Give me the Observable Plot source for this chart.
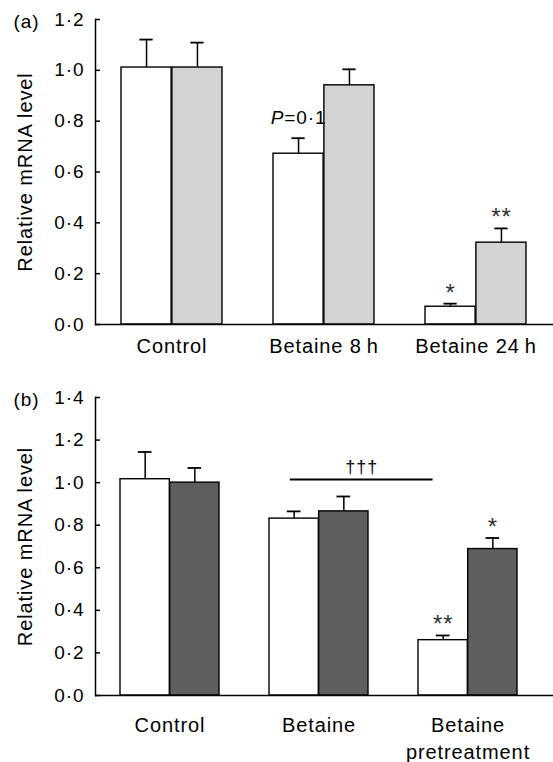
<!DOCTYPE html>
<html><head><meta charset="utf-8">
<script src="https://cdn.jsdelivr.net/npm/d3@7"></script>
<script src="https://cdn.jsdelivr.net/npm/@observablehq/plot@0.6"></script>
<style>
body{margin:0;background:#fff;}
#chart svg{display:block;}
</style></head><body><div id="chart"></div>
<script>
// ---------- Panel (a) ----------
const groupsA = ["Control", "Betaine 8\u2009h", "Betaine 24\u2009h"];
const whiteA = [1.011, 0.672, 0.070];
const whiteErrA = [0.110, 0.061, 0.012];
const grayA = [1.011, 0.941, 0.322];
const grayErrA = [0.098, 0.063, 0.056];
const yTicksA = [0, 0.2, 0.4, 0.6, 0.8, 1.0, 1.2];
const notesA = [
  {group: "Betaine 8\u2009h", series: "white", text: "P=0·1"},
  {group: "Betaine 24\u2009h", series: "white", text: "*"},
  {group: "Betaine 24\u2009h", series: "gray", text: "**"}
];

// ---------- Panel (b) ----------
const groupsB = ["Control", "Betaine", "Betaine\npretreatment"];
const whiteB = [1.016, 0.831, 0.260];
const whiteErrB = [0.128, 0.034, 0.022];
const grayB = [1.000, 0.865, 0.688];
const grayErrB = [0.069, 0.070, 0.052];
const yTicksB = [0, 0.2, 0.4, 0.6, 0.8, 1.0, 1.2, 1.4];
const notesB = [
  {group: "Betaine\npretreatment", series: "white", text: "**"},
  {group: "Betaine\npretreatment", series: "gray", text: "*"}
];
const sigB = [{from: "Betaine", to: "Betaine\npretreatment", y: 1.015, text: "†††"}];

const FONT = "'Liberation Sans', Arial, Helvetica, sans-serif";
const fmt = d => d3.format(".1f")(d).replace(".", "·");

function rowsOf(groups, white, whiteErr, gray, grayErr) {
  const rows = [];
  groups.forEach((g, i) => {
    rows.push({group: g, series: "white", value: white[i], err: whiteErr[i]});
    rows.push({group: g, series: "gray", value: gray[i], err: grayErr[i]});
  });
  return rows;
}

function panel(cfg) {
  const W = 553;
  const plotW = W - 95 - cfg.marginRight;
  const bw = plotW * 2 / 9;      // band = two bars
  const half = bw / 2;
  const q = half / 2;
  const rows = rowsOf(cfg.groups, cfg.white, cfg.whiteErr, cfg.gray, cfg.grayErr);
  const wRows = rows.filter(d => d.series === "white");
  const gRows = rows.filter(d => d.series === "gray");
  const top = (g, s) => { const r = rows.find(d => d.group === g && d.series === s); return r.value + r.err; };
  const notes = cfg.notes.map(n => ({...n, y: top(n.group, n.series)}));
  const pNotes = notes.filter(n => n.text.startsWith("P"));
  const starW = notes.filter(n => !n.text.startsWith("P") && n.series === "white");
  const starG = notes.filter(n => !n.text.startsWith("P") && n.series === "gray");
  const capIn = (bw - 14) / 2;
  const marks = [
    Plot.barY(wRows, {x: "group", y: "value", fill: "white", stroke: "black", strokeWidth: 1.4, insetRight: half}),
    Plot.barY(gRows, {x: "group", y: "value", fill: cfg.color, stroke: "black", strokeWidth: 1.4, insetLeft: half}),
    Plot.ruleX(wRows, {x: "group", y1: "value", y2: d => d.value + d.err, dx: -q, stroke: "black", strokeWidth: 1.5}),
    Plot.ruleX(gRows, {x: "group", y1: "value", y2: d => d.value + d.err, dx: q, stroke: "black", strokeWidth: 1.5}),
    Plot.tickY(wRows, {x: "group", y: d => d.value + d.err, dx: -q, insetLeft: capIn, insetRight: capIn, stroke: "black", strokeWidth: 1.8}),
    Plot.tickY(gRows, {x: "group", y: d => d.value + d.err, dx: q, insetLeft: capIn, insetRight: capIn, stroke: "black", strokeWidth: 1.8}),
    Plot.ruleY([0], {stroke: "black", strokeWidth: 1.5, insetRight: -cfg.marginRight}),
    Plot.frame({anchor: "left", stroke: "black", strokeWidth: 1.5}),
    Plot.axisY(cfg.yTicks, {label: null, tickSize: -5, tickPadding: 16, tickFormat: fmt, fontSize: 19, stroke: "black", strokeWidth: 1.5}),
    Plot.axisX({label: null, tickSize: 0, tickPadding: cfg.xPad, fontSize: 20, lineHeight: 1.35}),
    Plot.text([cfg.ylabel], {frameAnchor: "left", rotate: -90, dx: -70, fontSize: 20, textAnchor: "middle"}),
    Plot.text([cfg.tag], {frameAnchor: "top-left", dx: -82, dy: 2, fontSize: 19, textAnchor: "start", lineAnchor: "middle"}),
    Plot.text(pNotes, {x: "group", y: "y", text: "text", dx: -q, dy: -14, fontSize: 19, lineAnchor: "bottom", fill: "black"}),
    Plot.text(starW, {x: "group", y: "y", text: "text", dx: -q, dy: -3, fontSize: 24, lineAnchor: "bottom", fill: "#333"}),
    Plot.text(starG, {x: "group", y: "y", text: "text", dx: q, dy: -3, fontSize: 24, lineAnchor: "bottom", fill: "#333"})
  ];
  if (cfg.sig) {
    marks.push(Plot.ruleY(cfg.sig, {y: "y", x1: "from", x2: "to", insetLeft: bw * 0.21, insetRight: bw * 0.85, stroke: "black", strokeWidth: 2}));
    marks.push(Plot.text(cfg.sig, {y: "y", x: "from", text: "text", dx: bw * 0.43, dy: -6, fontSize: 18, lineAnchor: "bottom", fill: "black"}));
  }
  const svg = Plot.plot({
    width: W, height: cfg.height,
    marginLeft: 95, marginRight: cfg.marginRight, marginTop: cfg.marginTop, marginBottom: cfg.marginBottom,
    style: {fontFamily: FONT, fontSize: "19px", color: "black", background: "white", overflow: "visible", letterSpacing: "0.9px"},
    x: {domain: cfg.groups, paddingInner: 1 / 3, paddingOuter: 1 / 6},
    y: {domain: [0, cfg.yTicks[cfg.yTicks.length - 1]]},
    marks
  });
  // italic P in "P=0·1"
  svg.querySelectorAll("text").forEach(t => {
    if (t.textContent === "P=0·1") {
      t.textContent = "";
      const ns = "http://www.w3.org/2000/svg";
      const a = document.createElementNS(ns, "tspan"); a.setAttribute("font-style", "italic"); a.textContent = "P";
      const b = document.createElementNS(ns, "tspan"); b.textContent = "=0·1";
      t.appendChild(a); t.appendChild(b);
    }
  });
  return svg;
}

const chart = document.getElementById("chart");
chart.appendChild(panel({
  groups: groupsA, white: whiteA, whiteErr: whiteErrA, gray: grayA, grayErr: grayErrA,
  yTicks: yTicksA, notes: notesA, color: "#d3d3d3", tag: "(a)", ylabel: "Relative mRNA level",
  height: 370, marginTop: 19, marginBottom: 46, marginRight: 0, xPad: 9
}));
chart.appendChild(panel({
  groups: groupsB, white: whiteB, whiteErr: whiteErrB, gray: grayB, grayErr: grayErrB,
  yTicks: yTicksB, notes: notesB, color: "#5e5e5e", tag: "(b)", ylabel: "Relative mRNA level", sig: sigB,
  height: 392, marginTop: 27, marginBottom: 67, marginRight: 11, xPad: 17
}));
</script></body></html>
